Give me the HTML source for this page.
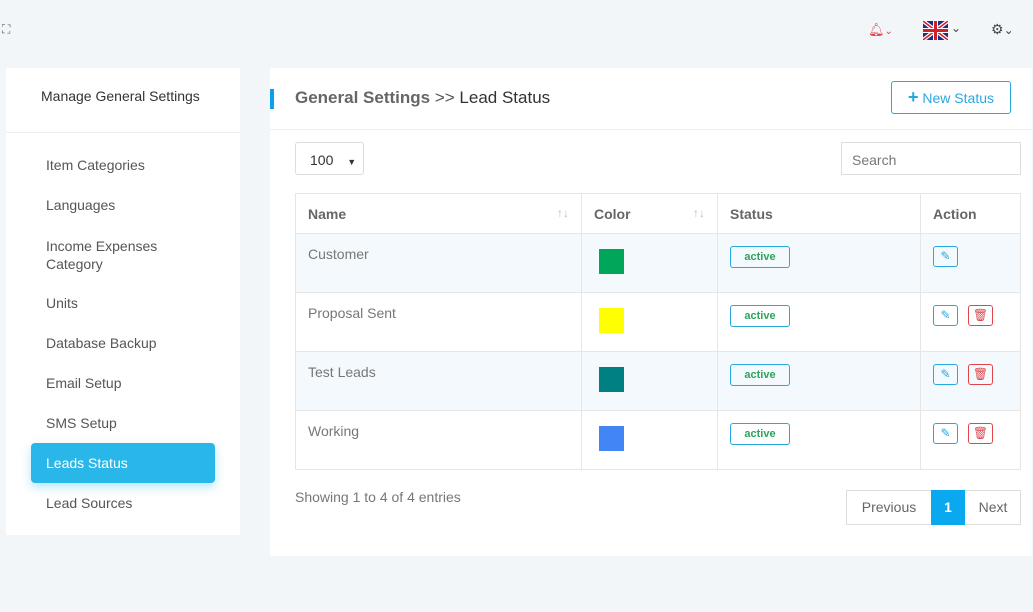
<!DOCTYPE html>
<html><head><meta charset="utf-8"><style>
*{box-sizing:border-box;margin:0;padding:0}
body{width:1033px;height:612px;background:#f3f6f9;font-family:"Liberation Sans",sans-serif;position:relative;overflow:hidden;color:#555}
.a{position:absolute}
.card{background:#fff}
.side div.it{position:absolute;left:40px;font-size:14px;color:#555}
table{border-collapse:collapse;position:absolute;left:295px;top:193px;width:726px;font-size:14px}
td,th{border:1px solid #e6e6e6;text-align:left;vertical-align:top;padding:0 12px}
th{height:40px;vertical-align:middle;color:#666;font-weight:bold;font-size:14px}
td{height:59px;padding-top:12px;color:#777}
tr.s td{background:#f3f9fc}
.sw{width:25px;height:25px;margin-top:3px;margin-left:5px}
.badge{display:inline-block;width:60px;text-align:center;border:1px solid #29a8e0;border-radius:3px;color:#2ea35a;font-size:11px;font-weight:bold;padding:4px 0}
.ic{display:inline-block;width:25px;height:21px;border:1px solid #29a8e0;border-radius:3px;margin-right:10px;color:#29a8e0;font-size:12px;text-align:center;line-height:19px}
.ic.r{border-color:#e0454a;color:#e0454a}
.sort{float:right;color:#bbb;font-weight:normal;font-size:12px}
</style></head><body>
<div class="a" style="left:2px;top:22px;font-size:12px;color:#666">⛶</div>
<div class="a" style="left:868px;top:22px;color:#e0454a;font-size:13px">🔔︎<span style="font-size:10px">⌄</span></div>
<div class="a" style="left:923px;top:21px;width:25px;height:19px;background:#1b2f80;overflow:hidden">
<svg width="25" height="19"><path d="M0 0L25 19M25 0L0 19" stroke="#fff" stroke-width="4"/><path d="M0 0L25 19M25 0L0 19" stroke="#d0202a" stroke-width="1.5"/><rect x="10" width="5" height="19" fill="#fff"/><rect y="7" width="25" height="5" fill="#fff"/><rect x="11" width="3" height="19" fill="#d0202a"/><rect y="8" width="25" height="3" fill="#d0202a"/></svg></div>
<div class="a" style="left:951px;top:21px;font-size:12px;color:#444">⌄</div>
<div class="a" style="left:991px;top:21px;font-size:14px;color:#444">⚙<span style="font-size:12px">⌄</span></div>

<div class="a card side" style="left:6px;top:68px;width:234px;height:467px">
<div class="a" style="left:35px;top:20px;font-size:14px;color:#333">Manage General Settings</div>
<div class="a" style="left:0;top:64px;width:234px;border-top:1px solid #eee"></div>
<div class="it" style="top:89px">Item Categories</div>
<div class="it" style="top:129px">Languages</div>
<div class="it" style="top:169px;line-height:18px">Income Expenses<br>Category</div>
<div class="it" style="top:227px">Units</div>
<div class="it" style="top:267px">Database Backup</div>
<div class="it" style="top:307px">Email Setup</div>
<div class="it" style="top:347px">SMS Setup</div>
<div class="a" style="left:25px;top:375px;width:184px;height:40px;background:#29b6e8;border-radius:4px;box-shadow:0 4px 10px rgba(41,182,232,.35)"></div>
<div class="it" style="top:387px;color:#fff">Leads Status</div>
<div class="it" style="top:427px">Lead Sources</div>
</div>

<div class="a card" style="left:270px;top:68px;width:762px;height:488px"></div>
<div class="a" style="left:270px;top:89px;width:4px;height:20px;background:#0aa0ee"></div>
<div class="a" style="left:295px;top:88px;font-size:17px;color:#555"><span style="font-weight:bold;color:#666">General Settings</span> &gt;&gt; <span style="color:#333">Lead Status</span></div>
<div class="a" style="left:891px;top:81px;width:120px;height:33px;border:1px solid #29a8e0;border-radius:3px;color:#29a8e0;font-size:14px;line-height:31px;text-align:center"><b style="font-size:18px">+</b> New Status</div>
<div class="a" style="left:270px;top:129px;width:762px;border-top:1px solid #eee"></div>
<div class="a" style="left:295px;top:142px;width:69px;height:33px;border:1px solid #ddd;border-radius:3px;font-size:14px;color:#333;padding:9px 0 0 14px">100 <span style="font-size:9px;margin-left:10px">▼</span></div>
<div class="a" style="left:841px;top:142px;width:180px;height:33px;border:1px solid #ddd;font-size:14px;color:#777;padding:9px 0 0 10px">Search</div>

<table>
<tr><th style="width:286px">Name<span class="sort">↑↓</span></th><th style="width:136px">Color<span class="sort">↑↓</span></th><th style="width:203px">Status</th><th>Action</th></tr>
<tr class="s"><td>Customer</td><td><div class="sw" style="background:#00a65a"></div></td><td><span class="badge">active</span></td><td><span class="ic">✎</span></td></tr>
<tr><td>Proposal Sent</td><td><div class="sw" style="background:#ffff00"></div></td><td><span class="badge">active</span></td><td><span class="ic">✎</span><span class="ic r">🗑︎</span></td></tr>
<tr class="s"><td>Test Leads</td><td><div class="sw" style="background:#008080"></div></td><td><span class="badge">active</span></td><td><span class="ic">✎</span><span class="ic r">🗑︎</span></td></tr>
<tr><td>Working</td><td><div class="sw" style="background:#4285f4"></div></td><td><span class="badge">active</span></td><td><span class="ic">✎</span><span class="ic r">🗑︎</span></td></tr>
</table>

<div class="a" style="left:295px;top:489px;font-size:14px;color:#777">Showing 1 to 4 of 4 entries</div>
<div class="a" style="left:846px;top:490px;width:175px;height:35px;border:1px solid #ddd;font-size:14px;color:#666">
<span class="a" style="left:0;top:0;width:84px;height:33px;line-height:33px;text-align:center">Previous</span>
<span class="a" style="left:84px;top:-1px;width:34px;height:35px;background:#0aa8ee;color:#fff;font-weight:bold;line-height:35px;text-align:center">1</span>
<span class="a" style="left:118px;top:0;width:56px;height:33px;line-height:33px;text-align:center">Next</span>
</div>
</body></html>
